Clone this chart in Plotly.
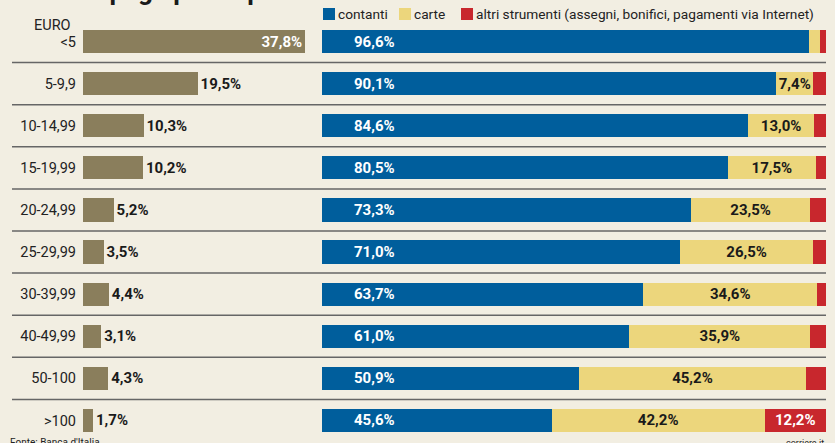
import plotly.graph_objects as go

categories = ["<5", "5-9,9", "10-14,99", "15-19,99", "20-24,99",
              "25-29,99", "30-39,99", "40-49,99", "50-100", ">100"]
share = [37.8, 19.5, 10.3, 10.2, 5.2, 3.5, 4.4, 3.1, 4.3, 1.7]
contanti = [96.6, 90.1, 84.6, 80.5, 73.3, 71.0, 63.7, 61.0, 50.9, 45.6]
carte = [2.2, 7.4, 13.0, 17.5, 23.5, 26.5, 34.6, 35.9, 45.2, 42.2]
altri = [1.2, 2.5, 2.4, 2.0, 3.2, 2.5, 1.7, 3.1, 3.9, 12.2]
series_names = ["contanti", "carte", "altri strumenti (assegni, bonifici, pagamenti via Internet)"]

W, H = 835, 443
BG = "#f2eee2"
BROWN = "#8a7e5c"
BLUE = "#005e9c"
YELLOW = "#ecd67c"
RED = "#c8272d"
FONT = "Roboto, Arial, sans-serif"
NUM = 15
CAT = 14.5


def fmt(v):
    return f"{v:.1f}".replace(".", ",") + "%"


def px_x(p):
    return p / W


def px_y(p):
    return 1 - p / H


fig = go.Figure()

# left panel: share of transactions
share_pos = ["inside" if v > 30 else "outside" for v in share]
fig.add_trace(go.Bar(
    y=categories, x=share, orientation="h", xaxis="x", yaxis="y",
    marker=dict(color=BROWN, line=dict(width=0)), width=0.55,
    text=["<b>" + fmt(v) + "</b>" for v in share],
    textposition=share_pos, insidetextanchor="end",
    insidetextfont=dict(color="white", size=NUM, family=FONT),
    outsidetextfont=dict(color="#1a1a1a", size=NUM, family=FONT),
    cliponaxis=False, constraintext="none",
    showlegend=False, hoverinfo="skip",
))

# right panel: payment instruments (stacked)
fig.add_trace(go.Bar(
    y=categories, x=contanti, orientation="h", xaxis="x2", yaxis="y",
    name=series_names[0], marker=dict(color=BLUE, line=dict(width=0)), width=0.55,
    showlegend=False, hoverinfo="skip",
))
fig.add_trace(go.Bar(
    y=categories, x=carte, orientation="h", xaxis="x2", yaxis="y",
    name=series_names[1], marker=dict(color=YELLOW, line=dict(width=0)), width=0.55,
    text=["<b>" + fmt(v) + "</b>" if v >= 5 else "" for v in carte],
    textposition="inside", insidetextanchor="middle", constraintext="none",
    insidetextfont=dict(color="#1a1a1a", size=NUM, family=FONT),
    showlegend=False, hoverinfo="skip",
))
fig.add_trace(go.Bar(
    y=categories, x=altri, orientation="h", xaxis="x2", yaxis="y",
    name=series_names[2], marker=dict(color=RED, line=dict(width=0)), width=0.55,
    text=["<b>" + fmt(v) + "</b>" if v >= 5 else "" for v in altri],
    textposition="inside", insidetextanchor="middle", constraintext="none",
    insidetextfont=dict(color="white", size=NUM, family=FONT),
    showlegend=False, hoverinfo="skip",
))

annotations = []
# contanti labels, near the start of the blue bars
for c, v in zip(categories, contanti):
    annotations.append(dict(
        x=6, y=c, xref="x2", yref="y", xanchor="left", yanchor="middle",
        text="<b>" + fmt(v) + "</b>", showarrow=False,
        font=dict(color="white", size=NUM, family=FONT),
    ))

# header EURO
annotations.append(dict(
    x=px_x(73), y=px_y(25), xref="paper", yref="paper", xanchor="right", yanchor="middle",
    text="EURO", showarrow=False, font=dict(color="#222", size=CAT, family=FONT),
))

# manual legend
shapes = []
legend_items = [(323, BLUE, series_names[0]), (399, YELLOW, series_names[1]), (461, RED, series_names[2])]
for x0, col, name in legend_items:
    shapes.append(dict(type="rect", xref="paper", yref="paper",
                       x0=px_x(x0), x1=px_x(x0 + 12), y0=px_y(20), y1=px_y(8),
                       fillcolor=col, line=dict(width=0)))
    annotations.append(dict(
        x=px_x(x0 + 13), y=px_y(14), xref="paper", yref="paper", xanchor="left", yanchor="middle",
        text=name, showarrow=False, font=dict(color="#222", size=13.7, family=FONT),
    ))

# title (cropped at top in the reference)
annotations.append(dict(
    x=px_x(6), y=px_y(8), xref="paper", yref="paper", xanchor="left", yanchor="bottom",
    text="<b>Come si paga per importo</b>", showarrow=False,
    font=dict(color="#1a1a1a", size=26, family=FONT),
))
# footer (cropped at bottom in the reference)
annotations.append(dict(
    x=px_x(8), y=px_y(435), xref="paper", yref="paper", xanchor="left", yanchor="top",
    text="Fonte: Banca d'Italia", showarrow=False, font=dict(color="#222", size=10, family=FONT),
))
annotations.append(dict(
    x=px_x(826), y=px_y(436), xref="paper", yref="paper", xanchor="right", yanchor="top",
    text="corriere.it", showarrow=False, font=dict(color="#222", size=9, family=FONT),
))

# row separators
for i in range(len(categories) - 1):
    shapes.append(dict(type="line", xref="paper", yref="y",
                       x0=px_x(12), x1=px_x(826), y0=i + 0.5, y1=i + 0.5,
                       line=dict(color="#666666", width=1.5)))

fig.update_layout(
    width=W, height=H,
    margin=dict(l=0, r=0, t=0, b=0, autoexpand=False),
    paper_bgcolor=BG, plot_bgcolor=BG,
    barmode="stack",
    bargap=0,
    font=dict(family=FONT, color="#222", size=14),
    xaxis=dict(domain=[px_x(83), px_x(318)], range=[0, 40], visible=False,
               fixedrange=True, automargin=False),
    xaxis2=dict(domain=[px_x(322), px_x(826)], range=[0, 100], visible=False,
                fixedrange=True, automargin=False),
    yaxis=dict(
        type="category", categoryorder="array", categoryarray=categories,
        range=[9.5, -0.5], domain=[px_y(441.5), px_y(20.5)],
        showgrid=False, zeroline=False, showline=False, ticks="",
        ticklabelstandoff=6, automargin=False,
        tickfont=dict(size=CAT, color="#222", family=FONT), fixedrange=True,
    ),
    shapes=shapes,
    annotations=annotations,
)

fig.write_html(
    "out.html",
    config={"displayModeBar": False, "staticPlot": True},
    post_script=(
        "document.body.style.margin='0';"
        "document.body.style.padding='0';"
        "document.body.style.background='" + BG + "';"
    ),
)
